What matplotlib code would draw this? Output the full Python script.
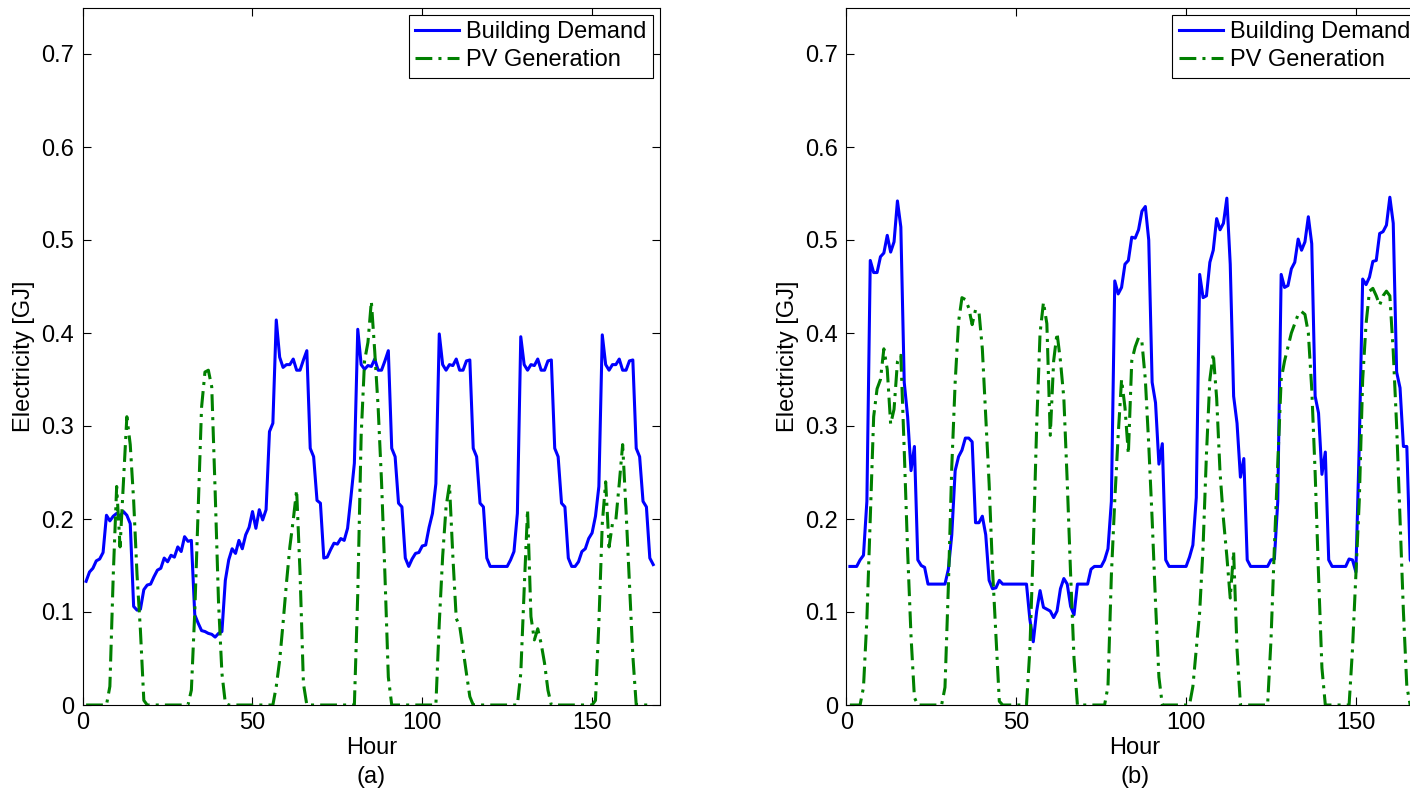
import numpy as np
import matplotlib
matplotlib.use("Agg")
import matplotlib.pyplot as plt

plt.rcParams['font.family'] = ['Liberation Sans', 'DejaVu Sans']

hours = np.arange(1, 169)

# (a) hourly values, one day per row
demand_a = [
    0.133, 0.143, 0.147, 0.155, 0.157, 0.164, 0.204, 0.198, 0.203, 0.206, 0.203, 0.208, 0.204, 0.195, 0.106, 0.102, 0.103, 0.124, 0.129, 0.130, 0.138, 0.145, 0.147, 0.158,
    0.154, 0.161, 0.159, 0.170, 0.165, 0.181, 0.176, 0.177, 0.097, 0.088, 0.080, 0.079, 0.077, 0.076, 0.073, 0.077, 0.079, 0.134, 0.156, 0.168, 0.163, 0.177, 0.168, 0.183,
    0.191, 0.208, 0.190, 0.210, 0.199, 0.210, 0.294, 0.303, 0.414, 0.374, 0.363, 0.366, 0.366, 0.372, 0.360, 0.360, 0.371, 0.381, 0.276, 0.267, 0.220, 0.217, 0.158, 0.159,
    0.167, 0.174, 0.173, 0.179, 0.177, 0.190, 0.224, 0.260, 0.404, 0.366, 0.361, 0.365, 0.364, 0.372, 0.360, 0.360, 0.370, 0.381, 0.276, 0.267, 0.217, 0.213, 0.158, 0.149,
    0.157, 0.163, 0.164, 0.171, 0.172, 0.191, 0.206, 0.238, 0.399, 0.366, 0.360, 0.366, 0.365, 0.372, 0.360, 0.360, 0.370, 0.371, 0.276, 0.267, 0.217, 0.213, 0.158, 0.149,
    0.149, 0.149, 0.149, 0.149, 0.149, 0.156, 0.165, 0.206, 0.396, 0.366, 0.360, 0.366, 0.365, 0.372, 0.360, 0.360, 0.370, 0.371, 0.276, 0.267, 0.217, 0.213, 0.158, 0.149,
    0.149, 0.154, 0.165, 0.168, 0.179, 0.185, 0.203, 0.235, 0.398, 0.366, 0.360, 0.366, 0.366, 0.372, 0.360, 0.360, 0.370, 0.371, 0.276, 0.267, 0.219, 0.213, 0.158, 0.151,
]
pv_a = [
    0, 0, 0, 0, 0, 0, 0, 0.02, 0.14, 0.235, 0.17, 0.24, 0.31, 0.28, 0.22, 0.14, 0.08, 0.005, 0, 0, 0, 0, 0, 0,
    0, 0, 0, 0, 0, 0, 0, 0.016, 0.10, 0.21, 0.32, 0.358, 0.36, 0.342, 0.23, 0.11, 0.034, 0.002, 0, 0, 0, 0, 0, 0,
    0, 0, 0, 0, 0, 0, 0, 0, 0.02, 0.048, 0.088, 0.131, 0.17, 0.199, 0.231, 0.142, 0.023, 0, 0, 0, 0, 0, 0, 0,
    0, 0, 0, 0, 0, 0, 0, 0, 0.12, 0.29, 0.37, 0.39, 0.434, 0.38, 0.32, 0.24, 0.14, 0.03, 0, 0, 0, 0, 0, 0,
    0, 0, 0, 0, 0, 0, 0, 0, 0.088, 0.16, 0.213, 0.237, 0.16, 0.093, 0.085, 0.06, 0.034, 0.009, 0, 0, 0, 0, 0, 0,
    0, 0, 0, 0, 0, 0, 0, 0, 0.034, 0.124, 0.21, 0.095, 0.07, 0.082, 0.066, 0.045, 0.016, 0, 0, 0, 0, 0, 0, 0,
    0, 0, 0, 0, 0, 0, 0.005, 0.088, 0.195, 0.24, 0.17, 0.195, 0.199, 0.238, 0.28, 0.209, 0.131, 0.053, 0, 0, 0, 0, 0, 0,
]

# (b)
demand_b = [
    0.149, 0.149, 0.149, 0.156, 0.161, 0.219, 0.478, 0.465, 0.465, 0.482, 0.486, 0.505, 0.487, 0.498, 0.542, 0.514, 0.347, 0.310, 0.252, 0.278, 0.156, 0.150, 0.148, 0.130,
    0.130, 0.130, 0.130, 0.130, 0.130, 0.146, 0.183, 0.252, 0.267, 0.274, 0.287, 0.287, 0.283, 0.196, 0.196, 0.203, 0.183, 0.134, 0.125, 0.126, 0.134, 0.130, 0.130, 0.130,
    0.130, 0.130, 0.130, 0.130, 0.130, 0.092, 0.068, 0.101, 0.123, 0.105, 0.103, 0.101, 0.094, 0.101, 0.125, 0.136, 0.130, 0.106, 0.097, 0.130, 0.130, 0.130, 0.130, 0.146,
    0.149, 0.149, 0.149, 0.156, 0.168, 0.219, 0.456, 0.442, 0.449, 0.474, 0.478, 0.503, 0.502, 0.511, 0.531, 0.536, 0.500, 0.347, 0.325, 0.259, 0.281, 0.156, 0.149, 0.149,
    0.149, 0.149, 0.149, 0.149, 0.159, 0.172, 0.223, 0.463, 0.438, 0.440, 0.476, 0.489, 0.523, 0.511, 0.518, 0.545, 0.474, 0.332, 0.303, 0.245, 0.265, 0.156, 0.149, 0.149,
    0.149, 0.149, 0.149, 0.149, 0.156, 0.157, 0.219, 0.463, 0.449, 0.451, 0.469, 0.476, 0.501, 0.489, 0.498, 0.525, 0.496, 0.332, 0.314, 0.248, 0.272, 0.156, 0.149, 0.149,
    0.149, 0.149, 0.149, 0.157, 0.156, 0.143, 0.280, 0.458, 0.452, 0.460, 0.477, 0.478, 0.507, 0.509, 0.516, 0.546, 0.518, 0.358, 0.341, 0.278, 0.278, 0.156, 0.150, 0.150,
]
pv_b = [
    0, 0, 0, 0, 0.019, 0.092, 0.2, 0.31, 0.34, 0.35, 0.383, 0.361, 0.302, 0.318, 0.369, 0.376, 0.274, 0.165, 0.074, 0.008, 0, 0, 0, 0,
    0, 0, 0, 0, 0.019, 0.128, 0.256, 0.347, 0.412, 0.438, 0.436, 0.427, 0.409, 0.425, 0.423, 0.383, 0.31, 0.238, 0.146, 0.074, 0.004, 0, 0, 0,
    0, 0, 0, 0, 0, 0.06, 0.17, 0.30, 0.40, 0.433, 0.41, 0.29, 0.37, 0.40, 0.37, 0.33, 0.24, 0.14, 0.05, 0, 0, 0, 0, 0,
    0, 0, 0, 0, 0.02, 0.14, 0.22, 0.29, 0.35, 0.32, 0.27, 0.37, 0.385, 0.395, 0.39, 0.35, 0.28, 0.2, 0.11, 0.03, 0, 0, 0, 0,
    0, 0, 0, 0, 0, 0.02, 0.06, 0.1, 0.17, 0.27, 0.35, 0.378, 0.33, 0.25, 0.2, 0.16, 0.115, 0.165, 0.06, 0, 0, 0, 0, 0,
    0, 0, 0, 0, 0.07, 0.17, 0.26, 0.35, 0.37, 0.385, 0.40, 0.41, 0.42, 0.423, 0.42, 0.40, 0.34, 0.25, 0.14, 0.04, 0, 0, 0, 0,
    0, 0, 0, 0, 0.06, 0.14, 0.22, 0.35, 0.41, 0.445, 0.448, 0.44, 0.43, 0.44, 0.445, 0.44, 0.38, 0.30, 0.2, 0.1, 0.02, 0, 0, 0,
]

panels = [(demand_a, pv_a, '(a)'), (demand_b, pv_b, '(b)')]
lefts = [82.7 / 1410, 846.5 / 1410]
fs = 17

fig = plt.figure(figsize=(14.1, 7.93), dpi=100)

for (dem, pv, tag), left in zip(panels, lefts):
    ax = fig.add_axes([left, 88 / 793, 577.3 / 1410, 697.5 / 793])
    ax.plot(hours, dem, color='#0000ff', lw=2.2, label='Building Demand')
    ax.plot(hours, pv, color='#008000', lw=2.2, ls=(0, (5.5, 2, 1, 2)), label='PV Generation')
    ax.set_xlim(0, 170)
    ax.set_ylim(0, 0.75)
    ax.set_xticks([0, 50, 100, 150])
    ax.set_yticks([0, 0.1, 0.2, 0.3, 0.4, 0.5, 0.6, 0.7])
    ax.set_yticklabels(['0', '0.1', '0.2', '0.3', '0.4', '0.5', '0.6', '0.7'])
    ax.tick_params(direction='in', top=True, right=True, length=6, width=0.8,
                   labelsize=fs)
    ax.tick_params(axis='x', pad=5)
    ax.tick_params(axis='y', pad=6)
    for sp in ax.spines.values():
        sp.set_linewidth(0.8)
    ax.text(0.5, -0.061, 'Hour', transform=ax.transAxes, ha='center', va='center', fontsize=fs)
    ax.text(0.5, -0.103, tag, transform=ax.transAxes, ha='center', va='center', fontsize=fs)
    ax.text(-0.101, 0.5, 'Electricity [GJ]', transform=ax.transAxes, rotation=90,
            ha='center', va='center', fontsize=fs)
    leg = ax.legend(loc='upper right', fontsize=fs, fancybox=False, framealpha=1,
                    edgecolor='black', borderpad=0.28, labelspacing=0.26,
                    handlelength=1.85, handletextpad=0.3, borderaxespad=0.3)
    leg.get_frame().set_linewidth(0.8)

fig.savefig('out.png', dpi=100)
